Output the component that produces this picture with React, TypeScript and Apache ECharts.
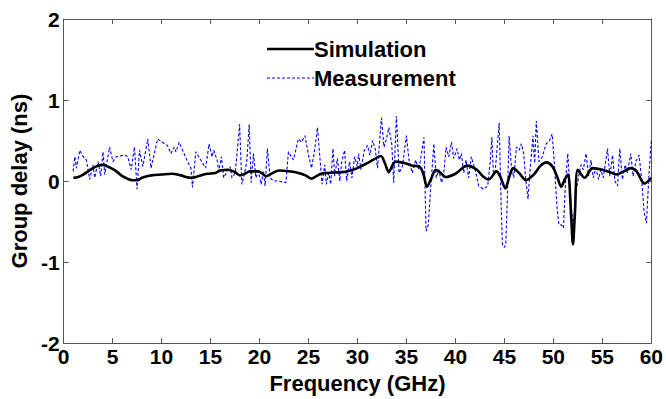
import React, { useEffect, useRef } from "react";
import * as echarts from "echarts";

const simFreq = [1.0, 1.5, 2.0, 2.5, 3.0, 3.5, 4.0, 4.5, 5.0, 5.5, 6.0, 6.5, 7.0, 7.5, 8.0, 8.5, 9.0, 10.0, 11.0, 12.0, 12.5, 13.0, 13.5, 14.0, 14.7, 15.5, 16.0, 16.8, 17.5, 18.0, 18.5, 19.0, 19.9, 20.3, 20.7, 21.2, 22.0, 23.0, 24.0, 24.7, 25.3, 25.8, 26.3, 27.0, 28.4, 29.0, 30.0, 31.0, 32.0, 32.4, 32.8, 33.2, 33.6, 33.9, 34.9, 35.6, 36.3, 36.7, 37.1, 37.5, 38.0, 38.5, 39.0, 40.0, 41.2, 42.2, 42.8, 43.4, 44.2, 44.6, 45.1, 45.5, 45.9, 46.5, 47.2, 48.0, 48.7, 49.3, 49.9, 50.4, 50.8, 51.2, 51.5, 51.8, 52.0, 52.2, 52.5, 53.2, 54.0, 55.0, 56.0, 56.4, 57.2, 57.9, 58.5, 59.3, 60.0];
const simDelay = [0.04, 0.05, 0.08, 0.12, 0.16, 0.19, 0.2, 0.18, 0.15, 0.11, 0.06, 0.03, 0.01, 0.01, 0.04, 0.06, 0.07, 0.08, 0.09, 0.07, 0.05, 0.04, 0.05, 0.07, 0.09, 0.1, 0.13, 0.14, 0.11, 0.07, 0.09, 0.12, 0.12, 0.09, 0.06, 0.09, 0.13, 0.12, 0.1, 0.07, 0.03, 0.06, 0.09, 0.1, 0.11, 0.12, 0.16, 0.22, 0.29, 0.31, 0.22, 0.11, 0.2, 0.24, 0.22, 0.19, 0.18, 0.1, -0.07, 0.02, 0.14, 0.1, 0.05, 0.09, 0.19, 0.14, 0.06, 0.02, 0.12, 0.05, -0.09, 0.05, 0.16, 0.1, 0.01, 0.08, 0.19, 0.23, 0.18, 0.05, -0.07, 0.03, 0.08, -0.4, -0.78, -0.4, 0.14, 0.04, 0.16, 0.14, 0.1, 0.08, 0.12, 0.16, 0.12, -0.03, 0.04];

const measFreq = [0.98, 1.15, 1.32, 1.66, 2.0, 2.33, 2.67, 3.0, 3.18, 3.52, 3.79, 4.03, 4.2, 4.7, 5.04, 5.38, 6.2, 6.56, 6.9, 7.24, 7.5, 7.75, 8.1, 8.6, 8.93, 9.6, 10.3, 10.6, 10.96, 11.3, 11.47, 11.8, 12.15, 12.66, 13.0, 13.16, 13.5, 14.0, 14.5, 14.85, 15.16, 15.33, 15.67, 15.84, 16.11, 16.35, 16.7, 17.0, 17.19, 17.53, 17.97, 18.2, 18.48, 18.7, 18.95, 19.15, 19.39, 19.63, 19.9, 20.17, 20.4, 20.57, 20.81, 21.08, 21.42, 21.93, 22.7, 22.95, 23.46, 23.97, 24.3, 24.64, 24.97, 25.31, 25.58, 25.92, 26.16, 26.39, 26.66, 26.83, 27.07, 27.27, 27.5, 27.68, 27.95, 28.2, 28.4, 28.69, 28.9, 29.2, 29.44, 29.71, 29.98, 30.12, 30.36, 30.7, 31.03, 31.27, 31.54, 31.81, 32.05, 32.45, 32.71, 32.96, 33.2, 33.5, 33.7, 33.98, 34.25, 34.59, 35.0, 35.26, 35.6, 35.94, 36.28, 36.79, 37.0, 37.23, 37.47, 37.8, 38.04, 38.31, 38.58, 38.8, 39.05, 39.32, 39.6, 39.83, 40.17, 40.4, 40.61, 40.85, 41.08, 41.35, 41.63, 41.86, 42.1, 42.37, 42.87, 43.3, 43.55, 43.72, 43.89, 44.06, 44.47, 44.67, 44.8, 45.0, 45.14, 45.28, 45.48, 45.72, 45.96, 46.23, 46.5, 46.74, 46.97, 47.18, 47.41, 47.65, 47.92, 48.09, 48.26, 48.53, 48.87, 49.27, 49.61, 49.88, 50.12, 50.36, 50.56, 50.8, 51.03, 51.24, 51.47, 51.71, 51.98, 52.15, 52.32, 52.59, 52.82, 53.06, 53.33, 53.6, 53.84, 54.07, 54.34, 54.61, 54.85, 55.09, 55.53, 55.77, 56.04, 56.28, 56.55, 56.78, 57.05, 57.33, 57.56, 57.9, 58.14, 58.41, 58.75, 59.02, 59.26, 59.5, 59.77, 60.0];
const measDelay = [0.12, 0.3, 0.16, 0.38, 0.3, 0.26, 0.02, 0.2, 0.04, 0.24, 0.06, 0.36, 0.08, 0.42, 0.24, 0.3, 0.32, 0.3, 0.14, 0.42, -0.1, 0.38, 0.18, 0.52, 0.16, 0.52, 0.46, 0.44, 0.34, 0.42, 0.36, 0.48, 0.38, 0.24, 0.16, -0.08, 0.36, 0.26, 0.16, 0.46, 0.3, 0.38, 0.26, 0.12, 0.3, 0.04, 0.12, 0.18, 0.04, 0.1, 0.7, -0.04, 0.1, 0.24, 0.7, -0.02, 0.34, 0.04, 0.12, -0.04, 0.12, -0.06, 0.4, 0.04, 0.0, 0.0, -0.02, 0.36, 0.26, 0.52, 0.48, 0.56, 0.34, 0.16, 0.34, 0.66, 0.3, -0.04, 0.2, -0.04, 0.1, -0.04, 0.4, 0.06, 0.28, 0.0, 0.24, 0.38, 0.0, 0.24, 0.04, 0.3, 0.18, 0.34, 0.14, 0.38, 0.44, 0.32, 0.5, 0.4, 0.16, 0.78, 0.42, 0.52, 0.66, 0.46, -0.02, 0.8, 0.1, 0.18, 0.56, 0.26, 0.1, 0.26, 0.14, 0.54, -0.62, -0.54, -0.1, 0.46, 0.04, 0.14, -0.02, 0.08, 0.42, 0.3, 0.48, 0.28, 0.4, 0.26, 0.34, 0.1, 0.26, 0.04, 0.3, 0.2, 0.1, -0.06, -0.1, -0.06, 0.24, 0.54, 0.06, 0.12, 0.72, -0.3, -0.78, -0.82, -0.78, -0.3, 0.56, 0.18, 0.04, 0.42, 0.38, 0.46, 0.34, 0.02, -0.22, 0.18, 0.56, 0.22, 0.74, 0.24, 0.3, 0.46, 0.5, 0.58, 0.18, -0.3, -0.54, -0.54, -0.58, -0.02, 0.34, -0.1, -0.54, -0.42, -0.14, 0.06, 0.2, 0.14, 0.34, 0.06, 0.26, 0.04, 0.16, 0.02, 0.14, 0.04, 0.4, 0.06, 0.32, 0.0, -0.06, 0.4, 0.02, 0.2, 0.1, 0.34, 0.06, 0.24, 0.32, 0.02, -0.38, -0.52, 0.1, 0.5];

const xTicks = [0, 5, 10, 15, 20, 25, 30, 35, 40, 45, 50, 55, 60];
const yTicks = [-2, -1, 0, 1, 2];
const seriesNames = ["Simulation", "Measurement"];

const FONT = "'Liberation Sans', Arial, sans-serif";
const AXIS_COLOR = "#555555";
const SIM_COLOR = "#000000";
const MEAS_COLOR = "#0000ff";

export default function App() {
  const ref = useRef<HTMLDivElement>(null);

  useEffect(() => {
    if (!ref.current) return;
    const chart = echarts.init(ref.current, null, { renderer: "svg" });
    const simData = simFreq.map((f, i) => [f, simDelay[i]]);
    const measData = measFreq.map((f, i) => [f, measDelay[i]]);
    const xMin = xTicks[0];
    const xMax = xTicks[xTicks.length - 1];
    const yMin = yTicks[0];
    const yMax = yTicks[yTicks.length - 1];

    const baseLine = { show: true, onZero: false, lineStyle: { color: AXIS_COLOR, width: 1 } };
    const tick = { show: true, inside: true, length: 5, lineStyle: { color: AXIS_COLOR } };
    const tickLabel = { fontFamily: FONT, fontWeight: "bold", fontSize: 21, color: "#000" };
    const nameStyle = { fontFamily: FONT, fontWeight: "bold", fontSize: 22, color: "#000" };

    const legendX = 267;
    const legendY = [49, 78];

    chart.setOption({
      animation: false,
      backgroundColor: "#ffffff",
      grid: { left: 62, right: 13, top: 19, bottom: 48, containLabel: false },
      graphic: [
        {
          type: "line",
          shape: { x1: legendX, y1: legendY[0], x2: legendX + 47, y2: legendY[0] },
          style: { stroke: SIM_COLOR, lineWidth: 2.6 },
        },
        {
          type: "text",
          x: legendX + 47,
          y: legendY[0],
          style: { text: seriesNames[0], font: `bold 22px ${FONT}`, fill: "#000", verticalAlign: "middle" },
        },
        {
          type: "line",
          shape: { x1: legendX, y1: legendY[1], x2: legendX + 47, y2: legendY[1] },
          style: { stroke: MEAS_COLOR, lineWidth: 1.1, lineDash: [3, 2] },
        },
        {
          type: "text",
          x: legendX + 47,
          y: legendY[1],
          style: { text: seriesNames[1], font: `bold 22px ${FONT}`, fill: "#000", verticalAlign: "middle" },
        },
      ],
      xAxis: [
        {
          type: "value",
          min: xMin,
          max: xMax,
          interval: 5,
          name: "Frequency (GHz)",
          nameLocation: "middle",
          nameGap: 24,
          nameTextStyle: nameStyle,
          axisLine: baseLine,
          axisTick: tick,
          splitLine: { show: false },
          axisLabel: { ...tickLabel, margin: 3 },
        },
        {
          type: "value",
          position: "top",
          min: xMin,
          max: xMax,
          interval: 5,
          axisLine: baseLine,
          axisTick: tick,
          splitLine: { show: false },
          axisLabel: { show: false },
        },
      ],
      yAxis: [
        {
          type: "value",
          min: yMin,
          max: yMax,
          interval: 1,
          name: "Group delay (ns)",
          nameLocation: "middle",
          nameGap: 29,
          nameTextStyle: nameStyle,
          axisLine: baseLine,
          axisTick: tick,
          splitLine: { show: false },
          axisLabel: { ...tickLabel, margin: 4 },
        },
        {
          type: "value",
          position: "right",
          min: yMin,
          max: yMax,
          interval: 1,
          axisLine: baseLine,
          axisTick: tick,
          splitLine: { show: false },
          axisLabel: { show: false },
        },
      ],
      series: [
        {
          name: seriesNames[0],
          type: "line",
          data: simData,
          smooth: 0.3,
          symbol: "none",
          lineStyle: { color: SIM_COLOR, width: 2.6 },
          itemStyle: { color: SIM_COLOR },
          z: 3,
        },
        {
          name: seriesNames[1],
          type: "line",
          data: measData,
          symbol: "none",
          lineStyle: { color: MEAS_COLOR, width: 1.1, type: [3, 2] },
          itemStyle: { color: MEAS_COLOR },
          z: 2,
        },
      ],
    });
    return () => chart.dispose();
  }, []);

  return (
    <div
      ref={ref}
      style={{ position: "fixed", left: 0, top: 0, width: 666, height: 399 }}
    />
  );
}
